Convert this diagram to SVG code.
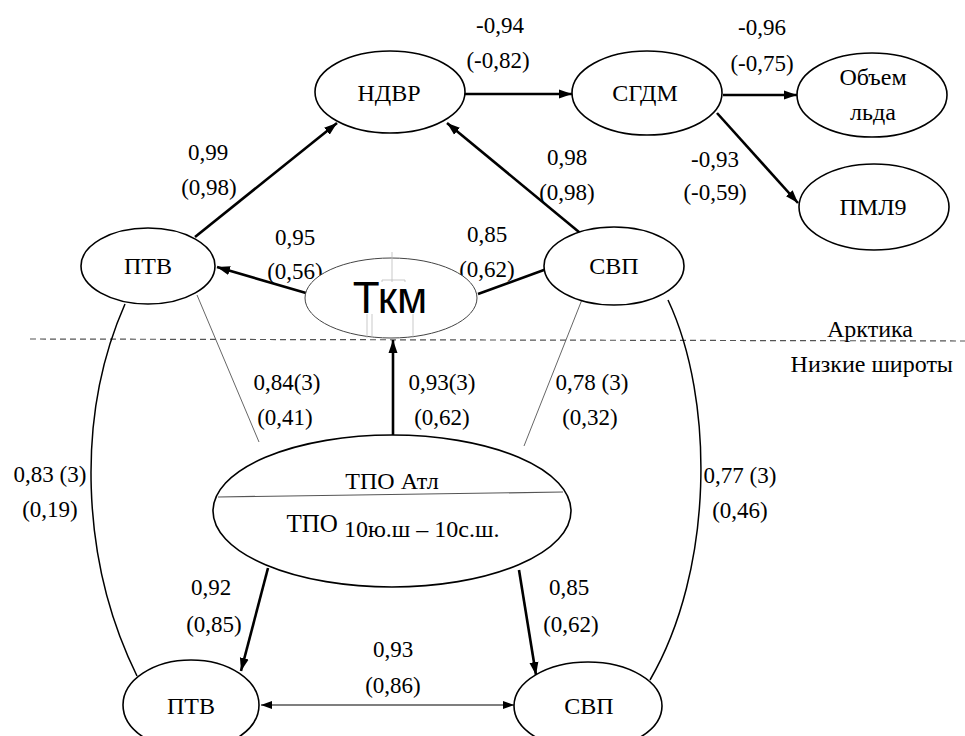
<svg xmlns="http://www.w3.org/2000/svg" width="965" height="736" viewBox="0 0 965 736">
<defs>
<marker id="ah" markerUnits="userSpaceOnUse" markerWidth="14" markerHeight="10" refX="13" refY="5" orient="auto">
<path d="M0,0.5 L13,5 L0,9.5 z" fill="#000"/>
</marker>
<marker id="ahs" markerUnits="userSpaceOnUse" markerWidth="12" markerHeight="9" refX="11" refY="4.5" orient="auto-start-reverse">
<path d="M0,0.5 L11,4.5 L0,8.5 z" fill="#000"/>
</marker>
</defs>
<style>
.n{fill:#fff;stroke:#000;stroke-width:1.6}
.t{font-size:24px;fill:#000;text-anchor:middle}
.l{font-size:23px;fill:#000;text-anchor:middle}
.thick{stroke:#000;stroke-width:2.6;fill:none}
.thin{stroke:#555;stroke-width:0.9;fill:none}
.curve{stroke:#000;stroke-width:1.5;fill:none}
</style>
<rect width="965" height="736" fill="#fff"/>

<g id="divider" font-family="Liberation Serif, DejaVu Serif, Times New Roman, serif">
<line x1="30" y1="339" x2="965" y2="341" stroke="#555" stroke-width="1.2" stroke-dasharray="6,4"/>
<text class="t" x="913" y="337" style="text-anchor:end">Арктика</text>
<text class="t" x="953" y="372" style="text-anchor:end">Низкие широты</text>
</g>

<g id="connectors">
<line class="thick" x1="195" y1="237" x2="337" y2="123" marker-end="url(#ah)"/>
<line class="thick" x1="585" y1="237" x2="447" y2="123" marker-end="url(#ah)"/>
<line class="thick" x1="465" y1="94" x2="572" y2="94" marker-end="url(#ah)"/>
<line class="thick" x1="723" y1="95" x2="797" y2="95" marker-end="url(#ah)"/>
<line class="thick" x1="717" y1="113" x2="798" y2="203" marker-end="url(#ah)"/>
<line class="thick" x1="306" y1="293" x2="217" y2="267" marker-end="url(#ah)"/>
<line class="thick" x1="478" y1="294" x2="563" y2="263" marker-end="url(#ah)"/>
<line class="thick" x1="393" y1="435" x2="393" y2="340" marker-end="url(#ah)"/>
<line class="thick" x1="268" y1="568" x2="241" y2="671" marker-end="url(#ah)"/>
<line class="thick" x1="519" y1="570" x2="536" y2="675" marker-end="url(#ah)"/>
<line x1="261" y1="705" x2="514" y2="705" stroke="#000" stroke-width="1.1" marker-start="url(#ahs)" marker-end="url(#ahs)"/>
<line class="thin" x1="197" y1="295" x2="259" y2="442"/>
<line class="thin" x1="583" y1="297" x2="524" y2="446"/>
<path class="curve" d="M125,304 C76,415 80,560 137,676"/>
<path class="curve" d="M668,300 C715,400 714,570 650,680"/>
</g>

<g id="labels" font-family="Liberation Serif, DejaVu Serif, Times New Roman, serif">
<text class="l" x="208" y="160">0,99</text>
<text class="l" x="209" y="195">(0,98)</text>
<text class="l" x="500" y="33">-0,94</text>
<text class="l" x="498" y="68">(-0,82)</text>
<text class="l" x="567" y="165">0,98</text>
<text class="l" x="567" y="200">(0,98)</text>
<text class="l" x="762" y="35">-0,96</text>
<text class="l" x="762" y="71">(-0,75)</text>
<text class="l" x="715" y="167">-0,93</text>
<text class="l" x="715" y="200">(-0,59)</text>
<text class="l" x="295" y="245">0,95</text>
<text class="l" x="295" y="279">(0,56)</text>
<text class="l" x="487" y="242">0,85</text>
<text class="l" x="487" y="277">(0,62)</text>
<text class="l" x="287" y="390">0,84(3)</text>
<text class="l" x="285" y="425">(0,41)</text>
<text class="l" x="442" y="390">0,93(3)</text>
<text class="l" x="442" y="425">(0,62)</text>
<text class="l" x="592" y="390">0,78 (3)</text>
<text class="l" x="590" y="425">(0,32)</text>
<text class="l" x="50" y="482">0,83 (3)</text>
<text class="l" x="50" y="517">(0,19)</text>
<text class="l" x="740" y="483">0,77 (3)</text>
<text class="l" x="740" y="518">(0,46)</text>
<text class="l" x="211" y="595">0,92</text>
<text class="l" x="214" y="632">(0,85)</text>
<text class="l" x="569" y="595">0,85</text>
<text class="l" x="571" y="632">(0,62)</text>
<text class="l" x="393" y="657">0,93</text>
<text class="l" x="393" y="693">(0,86)</text>
</g>

<g font-family="Liberation Serif, DejaVu Serif, Times New Roman, serif">
<g id="n-ndvr"><ellipse class="n" cx="390" cy="92" rx="75" ry="41"/><text class="t" x="389" y="101">НДВР</text></g>
<g id="n-sgdm"><ellipse class="n" cx="647" cy="93" rx="75" ry="42"/><text class="t" x="645" y="101">СГДМ</text></g>
<g id="n-ice"><ellipse class="n" cx="872" cy="95" rx="75" ry="42"/><text class="t" x="873" y="85">Объем</text><text class="t" x="873" y="120">льда</text></g>
<g id="n-pml9"><ellipse class="n" cx="874" cy="207" rx="75" ry="43"/><text class="t" x="873" y="215">ПМЛ9</text></g>
<g id="n-ptv-top"><ellipse class="n" cx="148" cy="266" rx="67" ry="38"/><text class="t" x="148" y="274">ПТВ</text></g>
<g id="n-svp-top"><ellipse class="n" cx="614" cy="266" rx="70" ry="39"/><text class="t" x="614" y="274">СВП</text></g>
<g id="n-tkm">
<ellipse cx="391" cy="298" rx="86" ry="40" fill="#fff" stroke="#444" stroke-width="1"/>
<g stroke="#bbb" stroke-width="0.8" fill="none">
<line x1="392" y1="252" x2="392" y2="282"/>
<polyline points="382,282 382,280 405,280 405,282"/>
<line x1="367" y1="314" x2="367" y2="338"/>
<line x1="372" y1="314" x2="372" y2="338"/>
<line x1="413" y1="314" x2="413" y2="338"/>
</g>
<text x="390" y="313" font-family="Liberation Sans, Arial, sans-serif" font-size="44" text-anchor="middle">Ткм</text>
</g>
<g id="n-tpo">
<ellipse class="n" cx="392" cy="511" rx="179" ry="76"/>
<line x1="218" y1="497" x2="563" y2="492" stroke="#555" stroke-width="1.2"/>
<text class="t" x="392" y="489">ТПО Атл</text>
<text class="t" x="393" y="537"><tspan font-size="25" dy="-5">ТПО</tspan><tspan dy="5"> 10ю.ш – 10с.ш.</tspan></text>
</g>
<g id="n-ptv-bot"><ellipse class="n" cx="191" cy="705" rx="68" ry="45"/><text class="t" x="191" y="714">ПТВ</text></g>
<g id="n-svp-bot"><ellipse class="n" cx="588" cy="706" rx="74" ry="44"/><text class="t" x="589" y="714">СВП</text></g>
</g>
</svg>
